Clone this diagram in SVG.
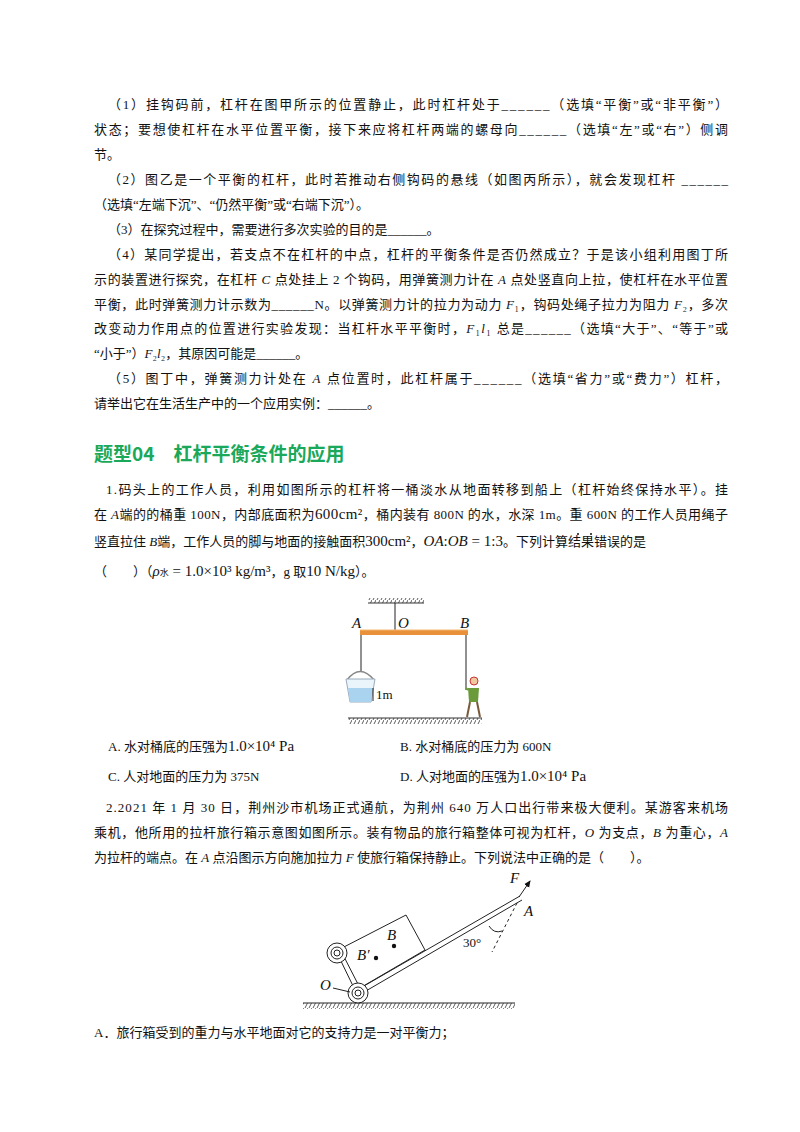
<svg xmlns="http://www.w3.org/2000/svg" width="800" height="1132" viewBox="0 0 800 1132">
<style>
.t{font-family:"Liberation Serif","Noto Sans CJK SC",serif;font-size:13px;fill:#111}
.i{font-style:italic}
.h{font-family:"Noto Sans CJK SC","Liberation Sans",sans-serif;font-size:19px;fill:#1aa85a;font-weight:bold}
.ln{stroke:#222;stroke-width:1;fill:none}
.fl{font-family:"Liberation Serif",serif;font-style:italic;font-size:15px;fill:#111}
</style>
<rect width="800" height="1132" fill="#fff"/>
<g id="text">
<text class="t" x="108" y="109" textLength="620">（1）挂钩码前，杠杆在图甲所示的位置静止，此时杠杆处于______（选填“平衡”或“非平衡”）</text>
<text class="t" x="94" y="134" textLength="634">状态；要想使杠杆在水平位置平衡，接下来应将杠杆两端的螺母向______（选填“左”或“右”）侧调</text>
<text class="t" x="94" y="159">节。</text>
<text class="t" x="108" y="184" textLength="620">（2）图乙是一个平衡的杠杆，此时若推动右侧钩码的悬线（如图丙所示），就会发现杠杆 ______</text>
<text class="t" x="94" y="209">（选填“左端下沉”、“仍然平衡”或“右端下沉”）。</text>
<text class="t" x="108" y="234">（3）在探究过程中，需要进行多次实验的目的是______。</text>
<text class="t" x="108" y="259" textLength="620">（4）某同学提出，若支点不在杠杆的中点，杠杆的平衡条件是否仍然成立？于是该小组利用图丁所</text>
<text class="t" x="94" y="284" textLength="634">示的装置进行探究，在杠杆 <tspan class="i">C</tspan> 点处挂上 2 个钩码，用弹簧测力计在 <tspan class="i">A</tspan> 点处竖直向上拉，使杠杆在水平位置</text>
<text class="t" x="94" y="309" textLength="634">平衡，此时弹簧测力计示数为______N。以弹簧测力计的拉力为动力 <tspan class="i">F</tspan>₁，钩码处绳子拉力为阻力 <tspan class="i">F</tspan>₂，多次</text>
<text class="t" x="94" y="333" textLength="634">改变动力作用点的位置进行实验发现：当杠杆水平平衡时，<tspan class="i">F</tspan>₁<tspan class="i">l</tspan>₁ 总是______（选填“大于”、“等于”或</text>
<text class="t" x="94" y="358">“小于”）<tspan class="i">F</tspan>₂<tspan class="i">l</tspan>₂，其原因可能是______。</text>
<text class="t" x="108" y="383" textLength="620">（5）图丁中，弹簧测力计处在 <tspan class="i">A</tspan> 点位置时，此杠杆属于______（选填“省力”或“费力”）杠杆，</text>
<text class="t" x="94" y="408">请举出它在生活生产中的一个应用实例：______。</text>
<text class="h" x="94" y="461">题型04　杠杆平衡条件的应用</text>
<text class="t" x="106" y="494" textLength="622">1.码头上的工作人员，利用如图所示的杠杆将一桶淡水从地面转移到船上（杠杆始终保持水平）。挂</text>
<text class="t" x="94" y="519" textLength="634">在 <tspan class="i">A</tspan>端的的桶重 100N，内部底面积为<tspan font-size="15">600cm²</tspan>，桶内装有 800N 的水，水深 1m。重 600N 的工作人员用绳子</text>
<text class="t" x="94" y="546">竖直拉住 <tspan class="i">B</tspan>端，工作人员的脚与地面的接触面积<tspan font-size="15">300cm²</tspan>，<tspan class="i" font-size="15">OA</tspan><tspan font-size="15">:</tspan><tspan class="i" font-size="15">OB</tspan><tspan font-size="15"> = 1:3</tspan>。下列计算结果错误的是</text>
<circle cx="578" cy="534" r="1" fill="#111"/><circle cx="591" cy="534" r="1" fill="#111"/>
<text class="t" x="94" y="576">（　　）（<tspan class="i" font-size="15">ρ</tspan><tspan font-size="9">水</tspan><tspan font-size="15"> = 1.0×10³ kg/m³</tspan>，g 取<tspan font-size="15">10 N/kg</tspan>）。</text>
<text class="t" x="108" y="751">A.  水对桶底的压强为<tspan font-size="15">1.0×10⁴ Pa</tspan></text>
<text class="t" x="400" y="751">B.  水对桶底的压力为 600N</text>
<text class="t" x="108" y="781">C.  人对地面的压力为 375N</text>
<text class="t" x="400" y="781">D.  人对地面的压强为<tspan font-size="15">1.0×10⁴ Pa</tspan></text>
<text class="t" x="106" y="812" textLength="622">2.2021 年 1 月 30 日，荆州沙市机场正式通航，为荆州 640 万人口出行带来极大便利。某游客来机场</text>
<text class="t" x="94" y="837" textLength="634">乘机，他所用的拉杆旅行箱示意图如图所示。装有物品的旅行箱整体可视为杠杆，<tspan class="i">O</tspan> 为支点，<tspan class="i">B</tspan> 为重心，<tspan class="i">A</tspan></text>
<text class="t" x="94" y="862">为拉杆的端点。在 <tspan class="i">A</tspan> 点沿图示方向施加拉力 <tspan class="i">F</tspan> 使旅行箱保持静止。下列说法中正确的是（　　）。</text>
<text class="t" x="94" y="1037">A．旅行箱受到的重力与水平地面对它的支持力是一对平衡力；</text>
</g>
<defs>
<pattern id="hat" width="4" height="6" patternUnits="userSpaceOnUse"><path d="M4,0 L1,6" stroke="#333" stroke-width="0.8"/></pattern>
<marker id="ar" markerWidth="8" markerHeight="8" refX="6" refY="4" orient="auto"><path d="M0,1 L7,4 L0,7 z" fill="#111"/></marker>
</defs>
<g id="fig1">
<line x1="368" y1="603" x2="424" y2="603" stroke="#333"/>
<rect x="368" y="598" width="56" height="5" fill="url(#hat)"/>
<line class="ln" x1="395" y1="603" x2="395" y2="631"/>
<rect x="360" y="630" width="108" height="5" fill="#e8913a"/>
<line x1="360" y1="630" x2="468" y2="630" stroke="#f4b870"/>
<text class="fl" x="352" y="628" font-size="10">A</text>
<text class="fl" x="398" y="628" font-size="10">O</text>
<text class="fl" x="460" y="628" font-size="10">B</text>
<line class="ln" x1="361" y1="635" x2="361" y2="672"/>
<line class="ln" x1="466" y1="635" x2="466" y2="690"/>
<path d="M347,680 Q360,663 374,680" fill="none" stroke="#888" stroke-width="1.5"/>
<path d="M346,679 L375,679 L371,702 L350,702 Z" fill="#e9f4fb" stroke="#9ab"/>
<path d="M348,688 L373,688 L371,702 L350,702 Z" fill="#a9d3ef"/>
<line class="ln" x1="373" y1="688" x2="373" y2="701"/>
<text class="t" x="376" y="699" font-size="9">1m</text>
<circle cx="474" cy="681" r="4" fill="#f0c8a0" stroke="#c33" stroke-width="1"/>
<path d="M468,688 L479,688 L478,702 L469,702 Z" fill="#6a9a3a"/>
<path d="M470,702 L467,717 M477,702 L480,717" stroke="#7a5a3a" stroke-width="2"/>
<line x1="468" y1="690" x2="466" y2="688" stroke="#6a9a3a" stroke-width="2"/>
<line x1="348" y1="718" x2="482" y2="718" stroke="#333"/>
<rect x="348" y="718" width="134" height="6" fill="url(#hat)"/>
</g>
<g id="fig2">
<line x1="303" y1="1003" x2="515" y2="1003" stroke="#222"/>
<rect x="303" y="1003" width="212" height="6" fill="url(#hat)"/>
<path d="M340,949 L406,915 L425,950 L360,988 Z" fill="#fff" stroke="#222"/>
<path d="M357,990 L520,896 M359,995 L522,900" stroke="#222" stroke-width="1"/>
<line class="ln" x1="339" y1="957" x2="354" y2="988"/>
<circle cx="337" cy="953" r="10" fill="#fff" stroke="#222"/>
<circle cx="337" cy="953" r="6" class="ln"/><circle cx="337" cy="953" r="3" class="ln"/>
<circle cx="358" cy="993" r="10" fill="#fff" stroke="#222"/>
<circle cx="358" cy="993" r="6" class="ln"/><circle cx="358" cy="993" r="3" class="ln"/>
<line class="ln" x1="519" y1="897" x2="530" y2="881" marker-end="url(#ar)"/>
<text class="fl" x="510" y="883">F</text>
<text class="fl" x="524" y="916">A</text>
<line x1="517" y1="903" x2="492" y2="952" stroke="#222" stroke-dasharray="3,3"/>
<path d="M489,926 Q494,934 502,931" class="ln"/>
<text class="t" x="463" y="947" font-size="14">30°</text>
<circle cx="394" cy="946" r="2.2" fill="#111"/>
<text class="fl" x="387" y="940">B</text>
<circle cx="376" cy="958" r="2.2" fill="#111"/>
<text class="fl" x="357" y="960">B′</text>
<text class="fl" x="320" y="990">O</text>
<line class="ln" x1="333" y1="988" x2="350" y2="992"/>
</g>
<g id="connectors"/>
</svg>
